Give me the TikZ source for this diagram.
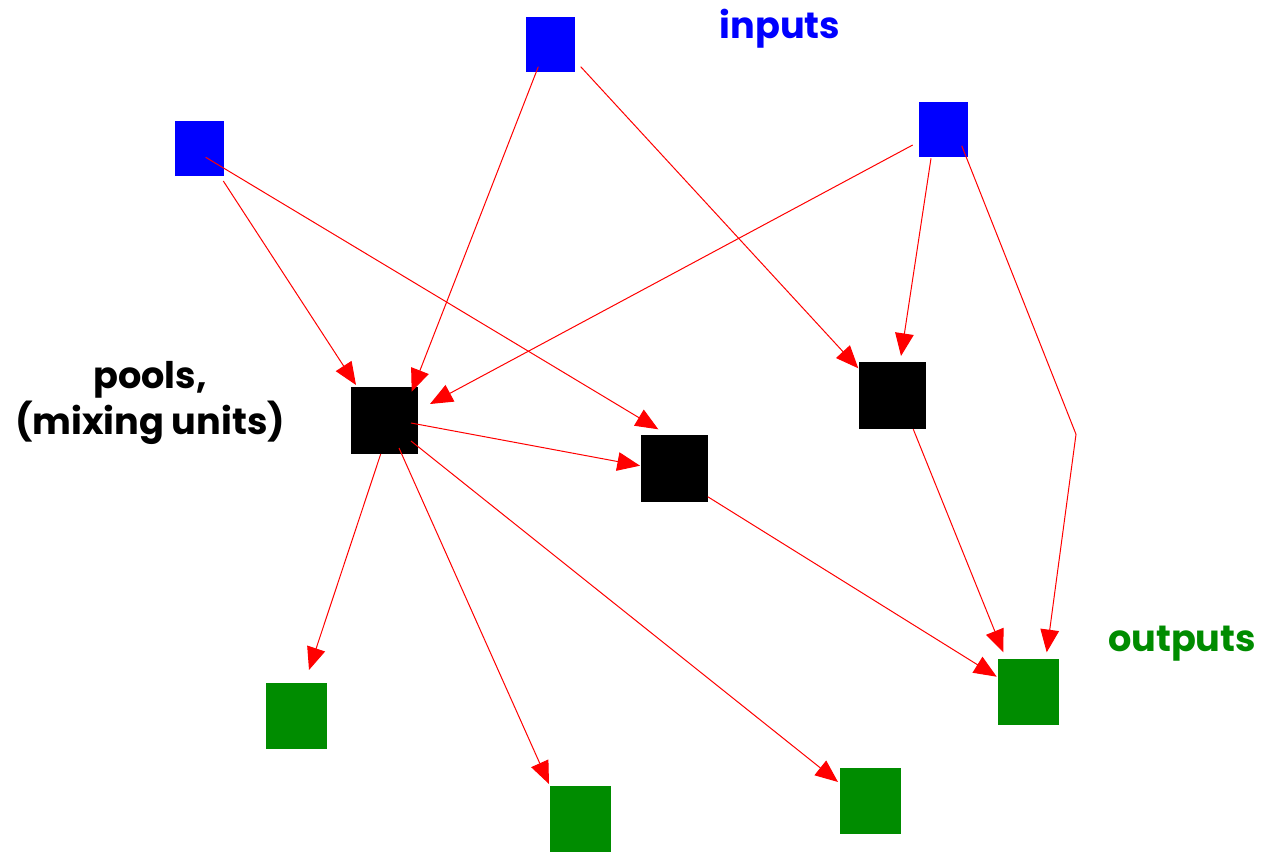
\documentclass[tikz,border=0pt]{standalone}
\usepackage{fontspec}
\setmainfont{Poppins}
\usetikzlibrary{arrows.meta,calc}
\definecolor{inblue}{RGB}{0,0,255}
\definecolor{outgreen}{RGB}{0,140,0}
\definecolor{arred}{RGB}{255,0,0}
\begin{document}
\begin{tikzpicture}[x=0.75pt,y=-0.75pt,
  inbox/.style={fill=inblue,draw=none,minimum width=36.75pt,minimum height=41.25pt,inner sep=0pt},
  poolbox/.style={fill=black,draw=none,minimum width=50.25pt,minimum height=50.25pt,inner sep=0pt},
  outbox/.style={fill=outgreen,draw=none,minimum width=45.75pt,minimum height=49.5pt,inner sep=0pt},
  lab/.style={font=\fontsize{27.5}{35}\selectfont\bfseries,align=center,inner sep=0pt},
  arr/.style={draw=arred,line width=0.75pt,-{Triangle[length=17pt,width=14pt]}}]
\useasboundingbox (0,0) rectangle (1266,852);
% inputs
\node[inbox] (B1) at (550.3,45) {};
\node[inbox] (B2) at (199.5,148.2) {};
\node[inbox] (B3) at (943.2,130) {};
% pools
\node[poolbox] (P1) at (384.2,420.3) {};
\node[poolbox] (P2) at (674,468.3) {};
\node[poolbox] (P3) at (892.2,395.8) {};
% outputs
\node[outbox] (G1) at (296,716) {};
\node[outbox] (G2) at (580,818.5) {};
\node[outbox] (G3) at (870.5,800.5) {};
\node[outbox] (G4) at (1028,692) {};
% labels
\node[lab,text=inblue] (Lin) at (780,29) {inputs};
\node[lab,text=black] (Lpool) at (150,403) {pools,\\(mixing units)};
\node[lab,text=outgreen] (Lout) at (1182,644) {outputs};
\coordinate (bend) at (1076,434.3);
% connectors
\draw[arr] ($(B2)+(6.2,9.1)$) -- ($(P2)+(-15.7,-39)$);
\draw[arr] ($(B2)+(23.8,32.8)$) -- ($(P1)+(-28.2,-35.3)$);
\draw[arr] ($(B1)+(-12,21.7)$) -- ($(P1)+(27.5,-28.6)$);
\draw[arr] ($(B1)+(30.4,21.7)$) -- ($(P3)+(-33.9,-27.5)$);
\draw[arr] ($(B3)+(-30.5,15)$) -- ($(P1)+(45.8,-16.3)$);
\draw[arr] ($(B3)+(-12.2,28.3)$) -- ($(P3)+(8.8,-39.8)$);
\draw[arr] ($(B3)+(18.5,15.7)$) -- (bend) -- ($(G4)+(18.7,-39.7)$);
\draw[arr] ($(P1)+(26.8,2.7)$) -- ($(P2)+(-34,-2.6)$);
\draw[arr] ($(P1)+(-3.5,33.7)$) -- ($(G1)+(13,-46)$);
\draw[arr] ($(P1)+(14.8,27.7)$) -- ($(G2)+(-31,-34.5)$);
\draw[arr] ($(P1)+(26.8,20.7)$) -- ($(G3)+(-32.5,-18.5)$);
\draw[arr] ($(P2)+(33.7,28.4)$) -- ($(G4)+(-31.3,-15.3)$);
\draw[arr] ($(P3)+(21.1,33.5)$) -- ($(G4)+(-24.7,-39.7)$);
\end{tikzpicture}
\end{document}
